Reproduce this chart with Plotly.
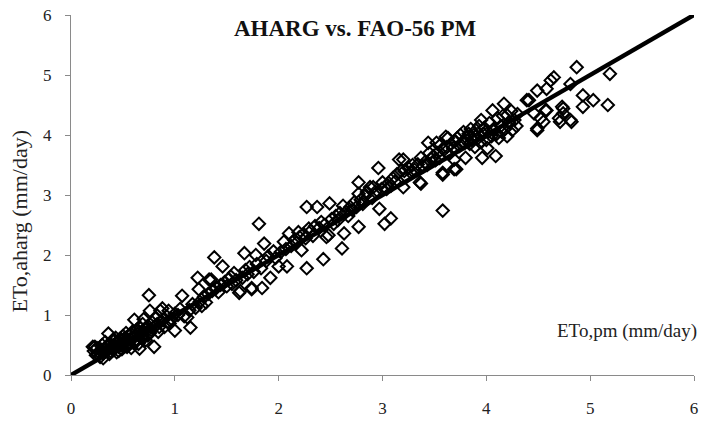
import plotly.graph_objects as go

# ---- data ----
eto_pm_low = [0.22,0.24,0.25,0.27,0.28,0.29,0.30,0.31,0.32,0.33,0.34,0.35,0.36,0.37,0.38,0.39,0.40,0.41,0.42,0.43,
              0.44,0.45,0.46,0.47,0.48,0.49,0.50,0.51,0.52,0.53,0.54,0.55,0.56,0.57,0.58,0.59,0.60,0.61,0.62,0.63,
              0.64,0.65,0.66,0.67,0.68,0.69,0.70,0.71,0.72,0.73,0.74,0.75,0.76,0.77,0.78,0.80,0.81,0.82,0.84,0.86,
              0.87,0.88,0.90,0.92,0.94,0.95,0.97,1.00,1.00,
              0.23,0.21,0.26,0.31,0.33,0.36,0.38,0.40,0.42,0.44,0.46,0.48,0.50,0.52,0.54,0.56,0.58,0.60,0.62,0.64,
              0.66,0.68,0.70,0.72,0.74,0.76,0.79,0.83,0.85,0.89,0.93]
eto_aharg_low = [0.40,0.33,0.45,0.38,0.30,0.42,0.50,0.36,0.44,0.55,0.40,0.48,0.69,0.35,0.52,0.45,0.58,0.42,0.50,0.62,
                 0.38,0.55,0.47,0.60,0.52,0.43,0.65,0.55,0.48,0.70,0.58,0.50,0.66,0.60,0.45,0.72,0.63,0.92,0.55,0.75,
                 0.68,0.52,0.44,0.78,0.62,0.85,0.93,0.70,0.58,0.80,0.66,1.33,1.07,0.75,0.88,0.47,0.82,0.95,0.72,1.07,
                 0.90,1.11,0.80,0.98,1.07,0.86,0.93,0.74,1.02,
                 0.47,0.47,0.35,0.28,0.42,0.50,0.40,0.47,0.58,0.52,0.40,0.60,0.50,0.62,0.47,0.55,0.68,0.54,0.65,0.58,
                 0.72,0.70,0.62,0.76,0.82,0.70,0.78,0.85,0.80,0.92,0.88]

eto_pm_mid = [1.03,1.05,1.07,1.09,1.12,1.14,1.15,1.17,1.20,1.22,1.23,1.24,1.26,1.28,1.30,1.32,1.33,1.35,1.36,1.38,
              1.40,1.42,1.44,1.46,1.48,1.50,1.52,1.54,1.55,1.57,1.59,1.62,1.63,1.65,1.67,1.68,1.70,1.72,1.74,1.74,
              1.76,1.78,1.79,1.81,1.83,1.84,1.86,
              1.88,1.90,1.92,1.95,1.97,2.00,2.02,2.05,2.07,2.08,2.10,2.12,2.15,2.17,2.19,2.20,2.22,2.24,2.26,2.27,
              2.27,2.29,2.31,2.33,2.35,2.37,2.39,2.41,2.43,2.44,2.46,2.48,2.49,2.51,2.53,2.55,2.57,2.59,2.61,2.62,
              2.63,2.65,2.67,2.69]
eto_aharg_mid = [1.00,1.10,1.32,0.98,0.96,1.08,0.79,1.18,1.12,1.62,1.43,1.22,1.15,1.30,1.21,1.35,1.59,1.59,1.40,1.96,
                 1.45,1.38,1.50,1.81,1.55,1.48,1.60,1.64,1.52,1.70,1.58,1.37,1.40,1.62,2.03,1.75,1.68,1.80,1.45,1.43,
                 1.72,2.00,1.85,2.52,1.78,1.45,2.19,
                 1.90,1.98,1.62,2.06,1.95,1.81,2.05,2.22,2.10,1.81,2.36,2.15,2.25,2.20,2.38,2.30,2.08,2.35,2.28,1.78,
                 2.80,2.44,2.40,2.32,2.48,2.80,2.45,2.55,1.93,2.50,2.30,2.33,2.86,2.60,2.52,2.65,2.58,2.70,2.11,2.82,
                 2.36,2.72,2.65,2.80]

eto_pm_high = [2.71,2.73,2.75,2.77,2.77,2.77,2.79,2.81,2.83,2.85,2.88,2.90,2.91,2.93,2.96,2.97,2.99,3.00,3.02,3.02,
               3.04,3.06,3.08,3.08,3.10,3.12,3.14,3.16,3.18,3.20,3.20,3.21,3.23,3.25,3.27,3.29,3.31,3.34,3.36,3.37,
               3.37,3.39,3.41,3.43,3.44,3.45,3.47,3.49,
               3.51,3.52,3.53,3.55,3.56,3.58,3.58,3.58,3.59,3.61,3.62,3.63,3.64,3.66,3.68,3.69,3.69,3.70,3.71,3.72,
               3.74,3.75,3.77,3.78,3.79,3.80,3.81,3.83,3.84,3.85,3.86,3.88,3.89,3.90,3.92,3.93,3.94,3.95,3.96,3.97,
               3.98,4.00,4.01,4.02,4.03,4.05,4.06,4.07,4.09,4.10,4.11,4.12,4.14,4.15,4.16,4.17,4.18,4.20,4.20,4.22,
               4.24,4.25,4.27,4.29,4.30,
               4.39,4.41,4.46,4.49,4.49,4.49,4.52,4.55,4.57,4.58,4.58,4.62,4.65,4.70,4.71,4.73,4.74,4.74,4.81,4.81,
               4.82,4.87,4.93,4.93,5.03,5.17,5.19]
eto_aharg_high = [2.75,2.88,2.80,2.47,3.21,3.02,2.92,2.85,2.98,3.05,3.13,2.95,3.13,3.05,3.45,2.77,3.10,3.21,2.52,3.13,
                  3.10,3.20,2.61,3.15,3.28,3.22,3.35,3.59,3.40,3.13,3.59,3.40,3.30,3.45,3.38,3.50,3.42,3.51,3.21,3.62,
                  3.19,3.48,3.55,3.50,3.87,3.70,3.60,3.65,
                  3.58,3.87,3.70,3.62,3.84,2.74,3.34,3.37,3.75,3.97,3.80,3.95,3.68,3.85,3.78,3.59,3.43,3.90,3.43,3.95,
                  3.82,4.00,3.88,4.05,3.87,3.62,3.95,4.02,3.85,4.10,3.92,4.00,3.80,4.08,3.95,4.15,3.88,4.25,3.62,4.02,
                  4.12,3.92,3.78,4.05,4.20,3.98,4.41,4.10,3.65,4.02,4.28,3.95,4.15,4.05,4.32,4.52,4.10,4.33,3.98,4.20,
                  4.40,4.08,4.25,4.15,4.35,
                  4.58,4.58,4.36,4.74,4.11,4.08,4.28,4.22,4.41,4.77,4.41,4.91,4.96,4.28,4.22,4.47,4.36,4.44,4.85,4.25,
                  4.22,5.13,4.66,4.47,4.58,4.50,5.02]

line_x = [0, 6]
line_y = [0, 6]
tick_vals = [0, 1, 2, 3, 4, 5, 6]

pm = eto_pm_low + eto_pm_mid + eto_pm_high
aharg = eto_aharg_low + eto_aharg_mid + eto_aharg_high

SERIF = "Liberation Serif, Times New Roman, serif"

fig = go.Figure()
fig.add_trace(go.Scatter(
    x=pm, y=aharg, mode="markers",
    marker=dict(symbol="diamond-open", size=9.5, color="black", line=dict(width=2, color="black")),
    showlegend=False, cliponaxis=True))
fig.add_trace(go.Scatter(
    x=line_x, y=line_y, mode="lines",
    line=dict(color="black", width=4.5), showlegend=False))

axis_common = dict(
    range=[0, 6], tickvals=tick_vals, showgrid=False, zeroline=False,
    showline=True, linecolor="#8a8a8a", linewidth=1.3,
    ticks="outside", ticklen=5, tickcolor="#8a8a8a", tickwidth=1.3,
    tickfont=dict(family=SERIF, size=17, color="#222"),
)
fig.update_xaxes(**axis_common, ticklabelstandoff=12)
fig.update_yaxes(**axis_common, ticklabelstandoff=10)

fig.update_layout(
    width=703, height=423,
    margin=dict(l=71, r=5, t=15, b=43),
    paper_bgcolor="white", plot_bgcolor="white",
    annotations=[
        dict(text="<b>AHARG vs. FAO-56 PM</b>", x=0.456, y=0.962, xref="paper", yref="paper",
             xanchor="center", yanchor="middle", showarrow=False,
             font=dict(family=SERIF, size=23, color="#111")),
        dict(text="ETo,aharg (mm/day)", x=-0.083, y=0.427, xref="paper", yref="paper",
             xanchor="center", yanchor="middle", textangle=-90, showarrow=False,
             font=dict(family=SERIF, size=22, color="#222")),
        dict(text="ETo,pm (mm/day)", x=1.008, y=0.123, xref="paper", yref="paper",
             xanchor="right", yanchor="middle", showarrow=False,
             font=dict(family=SERIF, size=19, color="#222")),
    ],
)

fig.write_html("out.html")
